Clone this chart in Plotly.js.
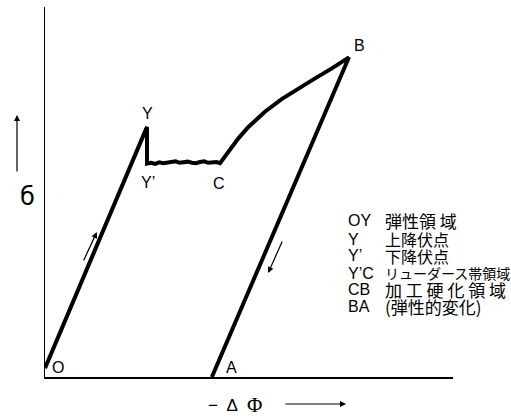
<!DOCTYPE html>
<html>
<head>
<meta charset="utf-8">
<script src="https://cdn.plot.ly/plotly-3.0.1.min.js"></script>
<style>html,body{margin:0;padding:0;background:#fff;}#chart{width:511px;height:419px;}</style>
</head>
<body>
<div id="chart"></div>
<script>
// Stress (σ) vs strain (−ΔΦ) curve, arbitrary units: O → Y → Y' → (Lüders plateau) → C → B → A
var strain = [0, 25.0, 25.0, 26.0, 27.0, 28.0, 29.0, 30.0, 31.0, 32.0, 33.0, 34.0, 35.0, 36.0, 37.0, 38.0, 39.0, 40.0, 41.0, 42.0, 42.9,
              44.9, 47.4, 49.8, 53.9, 58.0, 62.1, 66.2, 70.3, 74.5, 40.9];
var stress = [2.4, 67.6, 57.7, 57.9, 57.6, 58.0, 57.8, 57.9, 58.1, 58.3, 57.9, 58.0, 58.2, 57.9, 57.8, 58.1, 58.3, 57.9, 58.0, 58.1, 57.8,
              60.9, 64.5, 67.5, 71.7, 75.1, 78.0, 80.7, 83.4, 86.4, 0];

var pointLabels = ["Y", "Y’", "C", "B", "O", "A"];
var pointLabelX = [25.0, 25.3, 42.6, 77.0, 3.2, 45.6];
var pointLabelY = [71.3, 52.7, 52.4, 89.5, 2.7, 2.7];

var legendKeys = ["OY", "Y", "Y’", "Y’C", "CB", "BA"];
var legendTexts = ["弾性領 域", "上降伏点", "下降伏点", "リューダース帯領域", "加 工 硬 化 領 域", "(弾性的変化)"];
var legendSizes = [17, 16, 16, 14, 17, 17];

var latin = 'Liberation Sans, Arial, sans-serif';
var cjk = '"Noto Sans CJK JP", "Noto Sans CJK SC", sans-serif';

var annotations = [];
for (var i = 0; i < pointLabels.length; i++) {
  annotations.push({x: pointLabelX[i], y: pointLabelY[i], xref: 'x', yref: 'y', text: pointLabels[i],
    showarrow: false, font: {family: latin, size: 16, color: '#000'}});
}
var rowY = [220.5, 239, 255.5, 273, 289.5, 306];
for (var j = 0; j < legendKeys.length; j++) {
  var py = (377 - rowY[j]) / 370;
  annotations.push({x: (347 - 45) / 408, y: py, xref: 'paper', yref: 'paper', xanchor: 'left', yanchor: 'middle',
    borderpad: 0, text: legendKeys[j], showarrow: false, font: {family: latin, size: 16, color: '#000'}});
  annotations.push({x: (384 - 45) / 408, y: py, xref: 'paper', yref: 'paper', xanchor: 'left', yanchor: 'middle',
    borderpad: 0, text: legendTexts[j], showarrow: false, font: {family: cjk, size: legendSizes[j], color: '#000'}});
}
// direction arrows along the curve
annotations.push({x: 12.7, y: 39.2, ax: 9.3, ay: 31.1, xref: 'x', yref: 'y', axref: 'x', ayref: 'y',
  showarrow: true, arrowhead: 2, arrowsize: 1, arrowwidth: 1.2, arrowcolor: '#000', text: ''});
annotations.push({x: 54.7, y: 28.1, ax: 58.3, ay: 37.0, xref: 'x', yref: 'y', axref: 'x', ayref: 'y',
  showarrow: true, arrowhead: 2, arrowsize: 1, arrowwidth: 1.2, arrowcolor: '#000', text: ''});
// axis titles
annotations.push({x: (18 - 45) / 408, y: (377 - 197) / 370, xref: 'paper', yref: 'paper', yanchor: 'middle', text: 'б', showarrow: false,
  font: {family: 'DejaVu Sans, sans-serif', size: 24, color: '#000'}});
annotations.push({x: (17 - 45) / 408, y: (377 - 115) / 370, xref: 'paper', yref: 'paper', ax: 0, ay: 58,
  showarrow: true, arrowhead: 2, arrowsize: 1, arrowwidth: 1.2, arrowcolor: '#000', text: ''});
annotations.push({x: (223 - 45) / 408, y: (377 - 405) / 370, xref: 'paper', yref: 'paper', xanchor: 'center', yanchor: 'middle',
  text: '−  Δ', showarrow: false, font: {family: latin, size: 17, color: '#000'}});
annotations.push({x: (255 - 45) / 408, y: (377 - 405) / 370, xref: 'paper', yref: 'paper', xanchor: 'center', yanchor: 'middle',
  text: 'Φ', showarrow: false, font: {family: 'Liberation Serif, serif', size: 21, color: '#000'}});
annotations.push({x: (346 - 45) / 408, y: (377 - 404) / 370, xref: 'paper', yref: 'paper', ax: -62, ay: 0,
  showarrow: true, arrowhead: 2, arrowsize: 1, arrowwidth: 1.2, arrowcolor: '#000', text: ''});

var trace = {x: strain, y: stress, type: 'scatter', mode: 'lines', line: {color: '#000', width: 4}, hoverinfo: 'skip'};

var layout = {
  width: 511, height: 419,
  margin: {l: 45, r: 58, t: 7, b: 42},
  paper_bgcolor: '#fff', plot_bgcolor: '#fff',
  showlegend: false,
  xaxis: {range: [0, 100], showgrid: false, zeroline: false, showticklabels: false, ticks: '',
    showline: true, linecolor: '#000', linewidth: 1.5, fixedrange: true},
  yaxis: {range: [0, 100], showgrid: false, zeroline: false, showticklabels: false, ticks: '',
    showline: true, linecolor: '#000', linewidth: 1.5, fixedrange: true},
  annotations: annotations
};
Plotly.newPlot('chart', [trace], layout, {displayModeBar: false, staticPlot: true});
</script>
</body>
</html>
